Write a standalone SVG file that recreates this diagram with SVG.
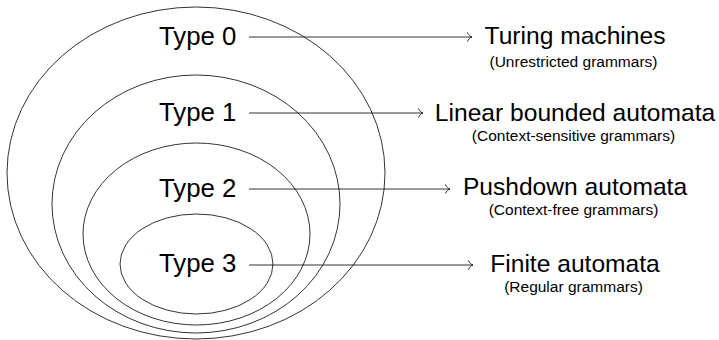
<svg xmlns="http://www.w3.org/2000/svg" width="719" height="340" viewBox="0 0 719 340">
  <style>
    .set { fill: none; stroke: #000; stroke-width: 0.8; }
    .link { fill: none; stroke: #000; stroke-width: 0.8; }
    .type { font-family: "Liberation Sans", Arial, sans-serif; font-size: 25.8px; fill: #000; }
    .title { font-family: "Liberation Sans", Arial, sans-serif; font-size: 24.6px; fill: #000; text-anchor: middle; }
    .sub { font-family: "Liberation Sans", Arial, sans-serif; font-size: 15.5px; fill: #000; text-anchor: middle; }
  </style>
  <defs>
    <marker id="to" markerUnits="userSpaceOnUse" markerWidth="12" markerHeight="12" refX="0" refY="0" orient="auto" overflow="visible" viewBox="-6 -6 12 12">
      <path d="M-4.5,-4.3 C-3.6,-2 -1.6,-0.5 0,0 C-1.6,0.5 -3.6,2 -4.5,4.3" fill="none" stroke="#000" stroke-width="0.8" stroke-linecap="round"/>
    </marker>
  </defs>

  <rect width="719" height="340" fill="#fff"/>

  <!-- Chomsky hierarchy: nested language classes -->
  <g id="type0">
    <ellipse class="set" cx="196" cy="173" rx="189" ry="166"/>
    <text class="type" x="159" y="45">Type 0</text>
  </g>
  <g id="type1">
    <ellipse class="set" cx="196" cy="204" rx="144" ry="129"/>
    <text class="type" x="159" y="121">Type 1</text>
  </g>
  <g id="type2">
    <ellipse class="set" cx="196.5" cy="234" rx="113.5" ry="91"/>
    <text class="type" x="159" y="197">Type 2</text>
  </g>
  <g id="type3">
    <ellipse class="set" cx="196.5" cy="264" rx="76.5" ry="50"/>
    <text class="type" x="159" y="272">Type 3</text>
  </g>

  <!-- Recognising machines -->
  <g id="turing">
    <text class="title" x="575" y="44">Turing machines</text>
    <text class="sub" x="573.5" y="67">(Unrestricted grammars)</text>
  </g>
  <g id="lba">
    <text class="title" x="575" y="121">Linear bounded automata</text>
    <text class="sub" x="573.5" y="141">(Context-sensitive grammars)</text>
  </g>
  <g id="pda">
    <text class="title" x="575" y="195">Pushdown automata</text>
    <text class="sub" x="573.5" y="215">(Context-free grammars)</text>
  </g>
  <g id="fa">
    <text class="title" x="575" y="272">Finite automata</text>
    <text class="sub" x="573.5" y="292">(Regular grammars)</text>
  </g>

  <g id="connectors">
    <line class="link" x1="249" y1="37" x2="472" y2="37" marker-end="url(#to)"/>
    <line class="link" x1="249" y1="113" x2="423" y2="113" marker-end="url(#to)"/>
    <line class="link" x1="249" y1="189" x2="450" y2="189" marker-end="url(#to)"/>
    <line class="link" x1="249" y1="265" x2="473" y2="265" marker-end="url(#to)"/>
  </g>
</svg>
